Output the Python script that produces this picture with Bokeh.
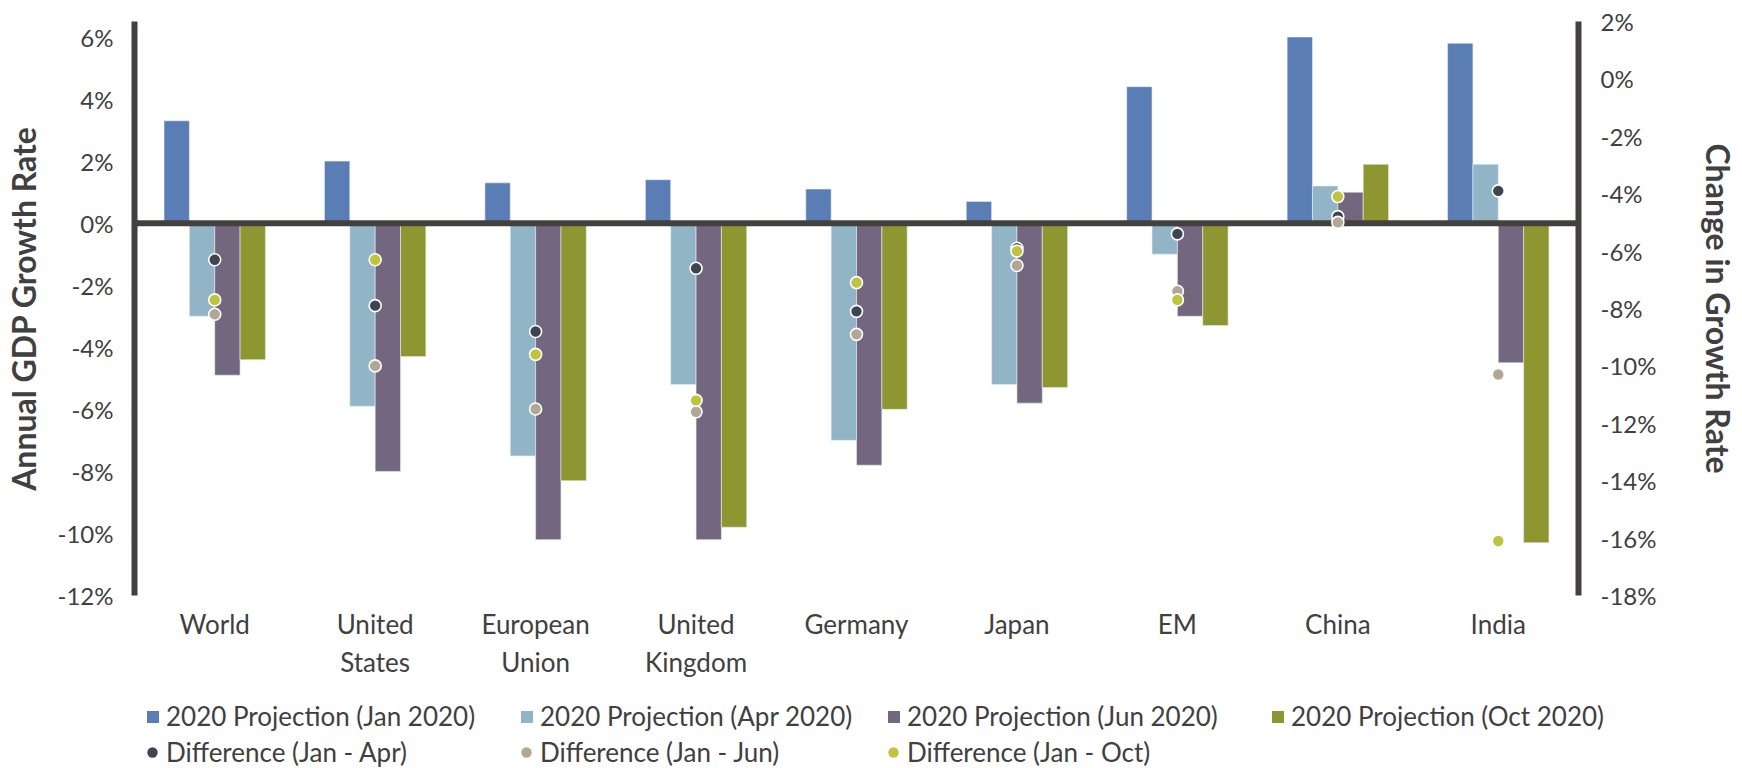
from bokeh.plotting import figure
from bokeh.models import (Range1d, LinearAxis, FixedTicker, PrintfTickFormatter,
                          Span, Legend, LegendItem, FactorRange, ColumnDataSource)
from bokeh.transform import dodge
from bokeh.embed import file_html
from bokeh.resources import INLINE

# Regions and IMF growth projections for 2020 (%)
regions = ["World", "United\nStates", "European\nUnion", "United\nKingdom",
           "Germany", "Japan", "EM", "China", "India"]

proj_jan = [3.3, 2.0, 1.3, 1.4, 1.1, 0.7, 4.4, 6.0, 5.8]
proj_apr = [-3.0, -5.9, -7.5, -5.2, -7.0, -5.2, -1.0, 1.2, 1.9]
proj_jun = [-4.9, -8.0, -10.2, -10.2, -7.8, -5.8, -3.0, 1.0, -4.5]
proj_oct = [-4.4, -4.3, -8.3, -9.8, -6.0, -5.3, -3.3, 1.9, -10.3]

# Revisions relative to the January projection (right axis)
diff_apr = [-6.3, -7.9, -8.8, -6.6, -8.1, -5.9, -5.4, -4.8, -3.9]
diff_jun = [-8.2, -10.0, -11.5, -11.6, -8.9, -6.5, -7.4, -5.0, -10.3]
diff_oct = [-7.7, -6.3, -9.6, -11.2, -7.1, -6.0, -7.7, -4.1, -16.1]

left_ticks = [-12, -10, -8, -6, -4, -2, 0, 2, 4, 6]
right_ticks = [-18, -16, -14, -12, -10, -8, -6, -4, -2, 0, 2]

bar_names = ["2020 Projection (Jan 2020)", "2020 Projection (Apr 2020)",
             "2020 Projection (Jun 2020)", "2020 Projection (Oct 2020)"]
dot_names = ["Difference (Jan - Apr)", "Difference (Jan - Jun)", "Difference (Jan - Oct)"]

BAR_COLORS = ["#5a7db5", "#92b4c7", "#73667f", "#8e9632"]
DOT_COLORS = ["#3f4452", "#b2a694", "#bfc33e"]
FONT = "Lato"
TEXT = "#404040"
AXIS = "#43413d"

src = ColumnDataSource(dict(region=regions, jan=proj_jan, apr=proj_apr, jun=proj_jun,
                            oct=proj_oct, d_apr=diff_apr, d_jun=diff_jun, d_oct=diff_oct))

p = figure(width=1742, height=692, x_range=FactorRange(*regions),
           y_range=Range1d(-12, 6.5), output_backend="svg", toolbar_location=None,
           min_border_left=131, min_border_right=164, min_border_top=21,
           min_border_bottom=97)
p.outline_line_color = None
p.xgrid.visible = False
p.ygrid.visible = False
p.border_fill_color = "white"
p.extra_y_ranges = {"change": Range1d(-18, 2)}

# Bars: four projection vintages per region
bar_w = 0.158
offsets = [-0.237, -0.079, 0.079, 0.237]
for col, off, color in zip(["jan", "apr", "jun", "oct"], offsets, BAR_COLORS):
    p.vbar(x=dodge("region", off, range=p.x_range), top=col, bottom=0,
           width=bar_w, source=src, fill_color=color, line_color="#e8eef2",
           line_width=0.6)

# Zero line across the plot
p.add_layout(Span(location=0, dimension="width", line_color=AXIS, line_width=6))

# Revision markers on the right axis
for col, color in zip(["d_apr", "d_jun", "d_oct"], DOT_COLORS):
    r = p.scatter(x="region", y=col, source=src, y_range_name="change", size=12,
                  fill_color=color, line_color="white", line_width=1.6)
    r.level = "overlay"

# Left axis
ya = p.yaxis[0]
ya.ticker = FixedTicker(ticks=left_ticks)
ya.formatter = PrintfTickFormatter(format="%d%%")
ya.axis_label = "Annual GDP Growth Rate"

# Right axis
ra = LinearAxis(y_range_name="change", ticker=FixedTicker(ticks=right_ticks),
                formatter=PrintfTickFormatter(format="%d%%"),
                axis_label="Change in Growth Rate")
p.add_layout(ra, "right")

for ax in (ya, ra):
    ax.axis_line_color = AXIS
    ax.axis_line_width = 6
    ax.major_tick_line_color = None
    ax.minor_tick_line_color = None
    ax.major_tick_out = 0
    ax.major_tick_in = 0
    ax.major_label_text_font = FONT
    ax.major_label_text_font_size = "24px"
    ax.major_label_text_color = TEXT
    ax.axis_label_text_font = FONT
    ax.axis_label_text_font_size = "32px"
    ax.axis_label_text_font_style = "bold"
    ax.axis_label_text_color = TEXT
ya.major_label_standoff = 21
ya.axis_label_standoff = 12
ra.major_label_standoff = 22
ra.axis_label_standoff = 40

# Category axis
xa = p.xaxis[0]
xa.axis_line_color = None
xa.major_tick_line_color = None
xa.major_tick_out = 0
xa.major_label_text_font = FONT
xa.major_label_text_font_size = "26px"
xa.major_label_text_color = TEXT
xa.major_label_standoff = 12

# Legend strip below the chart, drawn from proxy glyphs placed off-range
leg = figure(width=1742, height=76, x_range=Range1d(0, 1), y_range=Range1d(0, 1),
             output_backend="svg", toolbar_location=None, x_axis_type=None,
             y_axis_type=None, min_border=0)
leg.outline_line_color = None
leg.xgrid.visible = False
leg.ygrid.visible = False
leg.border_fill_color = "white"

common = dict(orientation="horizontal", label_text_font=FONT,
              label_text_font_size="26px", label_text_color=TEXT, padding=0,
              margin=0, spacing=0, border_line_color=None, background_fill_alpha=0)

# Legend columns (left edge of each entry's key, in pixels)
col_x = [145, 519, 886, 1270]

for name, color, x in zip(bar_names, BAR_COLORS, col_x):
    r = leg.vbar(x=[5], top=[5], bottom=[4], width=0.1, fill_color=color, line_color=None)
    leg.add_layout(Legend(items=[LegendItem(label=name, renderers=[r])],
                          location=(x, 36), glyph_width=15, glyph_height=15,
                          label_standoff=6, **common))

for name, color, x in zip(dot_names, DOT_COLORS, col_x):
    r = leg.scatter(x=[5], y=[5], size=12, fill_color=color, line_color=None)
    leg.add_layout(Legend(items=[LegendItem(label=name, renderers=[r])],
                          location=(x - 6, 0), glyph_width=26, glyph_height=26,
                          label_standoff=1, **common))

open("out.html", "w").write(file_html([p, leg], INLINE))
